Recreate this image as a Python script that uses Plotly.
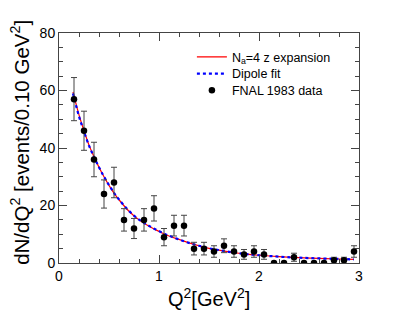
import plotly.graph_objects as go

# FNAL 1983 data, bin centres and counts per 0.10 GeV^2
q2_data = [0.15, 0.25, 0.35, 0.45, 0.55, 0.65, 0.75, 0.85, 0.95, 1.05,
           1.15, 1.25, 1.35, 1.45, 1.55, 1.65, 1.75, 1.85, 1.95, 2.05,
           2.15, 2.25, 2.35, 2.45, 2.55, 2.65, 2.75, 2.85, 2.95]
counts = [57, 46, 36, 24, 28, 15, 12, 15, 19, 9,
          13, 13, 5, 5, 4, 6, 4, 3, 4, 3,
          0, 0, 2, 0, 0, 0, 1, 1, 4]
count_err = [7.5, 6.8, 6.0, 4.9, 5.3, 3.9, 3.5, 3.9, 4.4, 3.0,
             3.6, 3.6, 2.2, 2.2, 2.0, 2.4, 2.0, 1.7, 2.0, 1.7,
             0, 0, 1.4, 0, 0, 0, 1.0, 1.0, 2.0]

# curves
q2_curve = [0.14, 0.2, 0.25, 0.3, 0.35, 0.4, 0.45, 0.5, 0.55, 0.6, 0.7, 0.8,
            0.9, 1.0, 1.1, 1.2, 1.3, 1.4, 1.5, 1.6, 1.7, 1.8, 1.9, 2.0,
            2.2, 2.4, 2.6, 2.8, 2.95]
zexp = [59.5, 51.5, 46.0, 41.0, 37.0, 33.3, 30.0, 27.0, 24.3, 22.0, 18.0, 15.0,
        12.8, 11.0, 9.4, 8.2, 7.0, 6.0, 5.1, 4.5, 3.9, 3.4, 3.0, 2.7,
        2.2, 1.85, 1.6, 1.4, 1.25]
dipole = [59.0, 51.0, 45.7, 40.8, 36.9, 33.3, 30.0, 27.1, 24.4, 22.1, 18.1, 15.1,
          12.9, 11.1, 9.5, 8.2, 7.0, 6.0, 5.1, 4.5, 3.9, 3.4, 3.0, 2.7,
          2.2, 1.85, 1.6, 1.4, 1.25]

fig = go.Figure()
fig.add_trace(go.Scatter(x=q2_curve, y=zexp, mode="lines", line_shape="spline",
                         name="N<sub>a</sub>=4 z expansion", legend="legend",
                         line=dict(color="red", width=1.2)))
fig.add_trace(go.Scatter(x=q2_curve, y=dipole, mode="lines", line_shape="spline",
                         name="Dipole fit", legend="legend2",
                         line=dict(color="blue", width=2.2, dash="dot")))
fig.add_trace(go.Scatter(x=q2_data, y=counts, mode="markers", name="FNAL 1983 data",
                         legend="legend3", marker=dict(color="black", size=6.5),
                         error_y=dict(type="data", array=count_err, color="#444444",
                                      thickness=1, width=3)))

axis_common = dict(showgrid=False, zeroline=False, showline=True, linecolor="#444444",
                   linewidth=1, mirror="allticks", ticks="inside", ticklen=8,
                   tickcolor="#444444", automargin=False,
                   tickfont=dict(family="Liberation Sans", size=14, color="black"))
fig.update_xaxes(range=[0, 3], dtick=1,
                 minor=dict(dtick=0.2, ticks="inside", ticklen=4, tickcolor="#444444"),
                 **axis_common)
fig.update_yaxes(range=[0, 80], dtick=20,
                 minor=dict(dtick=5, ticks="inside", ticklen=4, tickcolor="#444444"),
                 **axis_common)

# axis titles
fig.add_annotation(text="Q<sup>2</sup>[GeV<sup>2</sup>]", xref="paper", yref="paper",
                   x=0.5, y=-0.152, xanchor="center", yanchor="middle", showarrow=False,
                   font=dict(family="Liberation Sans", size=20))
fig.add_annotation(text="dN/dQ<sup>2</sup> [events/0.10 GeV<sup>2</sup>]",
                   xref="paper", yref="paper", x=-0.128, y=0.525, textangle=-90,
                   xanchor="center", yanchor="middle", showarrow=False,
                   font=dict(family="Liberation Sans", size=20.5))

leg = dict(x=0.443, xanchor="left", yanchor="middle", bgcolor="rgba(0,0,0,0)",
           font=dict(family="Liberation Sans", size=12.5), itemwidth=30)
fig.update_layout(
    width=391, height=320,
    margin=dict(l=51, r=40, t=25, b=65),
    paper_bgcolor="white", plot_bgcolor="white",
    font=dict(family="Liberation Sans", color="black"),
    showlegend=True,
    legend=dict(y=0.895, **leg),
    legend2=dict(y=0.822, **leg),
    legend3=dict(y=0.75, **leg),
)

fig.write_html("out.html")
